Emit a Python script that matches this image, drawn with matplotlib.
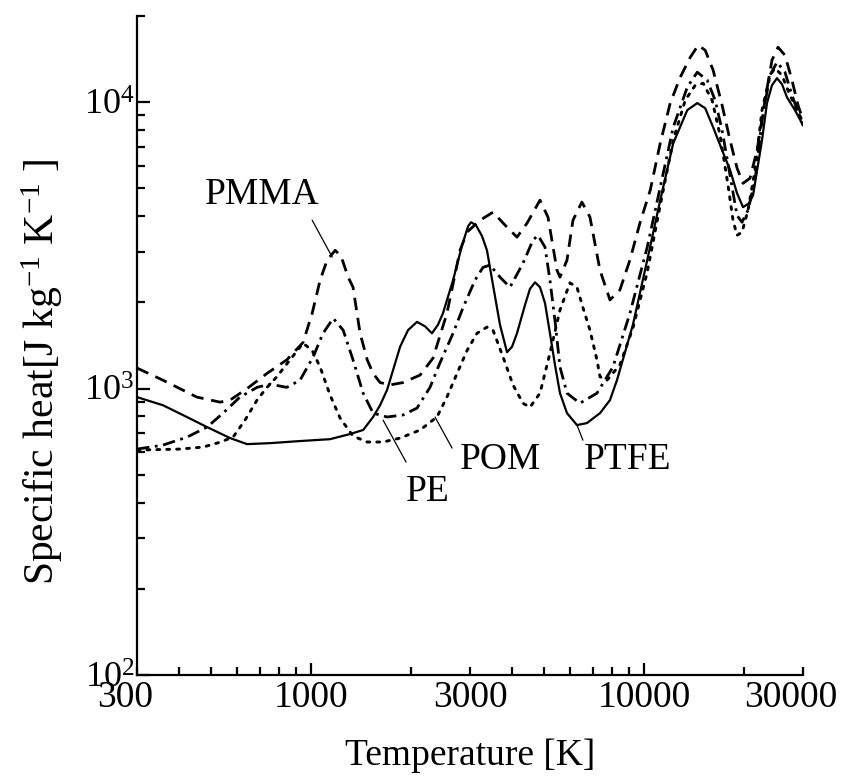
import matplotlib
matplotlib.use("Agg")
import matplotlib.pyplot as plt
from matplotlib.ticker import NullFormatter, LogLocator

plt.rcParams['font.family'] = ['Liberation Serif', 'DejaVu Serif']
plt.rcParams['mathtext.fontset'] = 'custom'
plt.rcParams['mathtext.rm'] = 'Liberation Serif'
plt.rcParams['mathtext.it'] = 'Liberation Serif:italic'

# Specific heat of polymer vapours vs temperature
ptfe_T = [300, 328, 359, 418, 487, 571, 642, 752, 926, 1140, 1308, 1433, 1535, 1611,
          1691, 1762, 1850, 1954, 2079, 2198, 2306, 2403, 2487, 2668, 2840, 2961, 3021,
          3126, 3259, 3373, 3517, 3691, 3875, 4011, 4151, 4388, 4541, 4702, 4867, 5038,
          5214, 5398, 5588, 5866, 6284, 6733, 7369, 7895, 8286, 9251, 10216, 11176,
          12228, 13472, 14435, 15253, 16111, 17140, 18108, 19008, 19813, 20650, 21230,
          22590, 23380, 24200, 25055, 25935, 26850, 28370, 30000]
ptfe_cp = [934, 904, 875, 802, 734, 672, 640, 645, 656, 666, 694, 717, 796, 875,
           990, 1160, 1400, 1600, 1710, 1650, 1560, 1670, 1830, 2390, 3170, 3690, 3810,
           3720, 3410, 3040, 2300, 1670, 1340, 1400, 1560, 1960, 2230, 2350, 2260, 1990,
           1560, 1210, 964, 821, 746, 758, 821, 912, 1070, 1670, 2810, 4550,
           7190, 9380, 9930, 9530, 8180, 6800, 5800, 4810, 4300, 4440, 4730,
           7370, 9930, 11460, 12130, 11560, 10400, 9380, 8310]

pmma_T = [300, 359, 454, 533, 571, 642, 737, 845, 946, 1007, 1064, 1117, 1181, 1230,
          1292, 1336, 1403, 1474, 1535, 1611, 1726, 1888, 2124, 2322, 2557, 2800, 2940,
          3214, 3517, 3875, 4151, 4449, 4867, 5143, 5474, 5588, 5866, 6112, 6502, 6875,
          7369, 7895, 8456, 9061, 9728, 10430, 11176, 11975, 12834, 13755, 14535,
          15253, 16111, 17140, 18108, 19008, 19813, 20793, 21830, 23065, 24200, 25230,
          26480, 27790, 28970, 30000]
pmma_cp = [1180, 1070, 934, 897, 912, 1000, 1130, 1260, 1450, 1830, 2390, 2810, 3040, 2900,
           2450, 2260, 1560, 1260, 1130, 1050, 1030, 1050, 1115, 1277, 1830, 3040, 3520,
           3870, 4130, 3660, 3380, 3780, 4550, 3970, 2590, 2450, 2810, 3870, 4480, 3970,
           2590, 2040, 2210, 2810, 3810, 4930, 7190, 9930, 12220, 14350, 15810,
           15180, 12940, 9770, 7370, 5890, 5210, 5430, 6800, 10160, 14020, 15560,
           14580, 11940, 9770, 8650]

pe_T = [300, 359, 424, 487, 544, 611, 688, 752, 845, 926, 1014, 1086, 1165, 1248,
        1336, 1433, 1535, 1691, 1888, 2079, 2275, 2437, 2668, 2860, 3105, 3281, 3445,
        3691, 3955, 4327, 4637, 4800, 5038, 5214, 5398, 5588, 5866, 6413, 7216, 8061,
        9061, 10216, 11176, 12228, 13472, 14435, 15464, 16336, 17140, 18108, 19008,
        19676, 20507, 21528, 22590, 23870, 25055, 26480, 27790, 30000]
pe_cp = [615, 635, 677, 734, 821, 934, 1010, 1037, 1010, 1070, 1290, 1560, 1760, 1600,
         1260, 964, 821, 796, 809, 855, 1010, 1230, 1560, 1920, 2390, 2650, 2700,
         2450, 2260, 2740, 3300, 3430, 3120, 2390, 1730, 1190, 964, 889, 964, 1190,
         1830, 3120, 5050, 8180, 11280, 12730, 11940, 10160, 7980, 5560, 4020,
         3810, 4200, 5340, 8650, 12420, 13800, 12730, 10570, 8310]

pom_T = [300, 337, 403, 474, 533, 583, 633, 688, 737, 789, 864, 946, 1007, 1064,
         1140, 1222, 1336, 1474, 1645, 1850, 2124, 2387, 2557, 2743, 2940, 3148, 3373,
         3517, 3769, 4039, 4327, 4541, 4867, 5214, 5588, 5986, 6284, 6548, 6875, 7216,
         7369, 7733, 8456, 9251, 10216, 11176, 12228, 13285, 14237, 15042, 15999,
         16902, 17858, 18488, 19008, 19676, 20507, 21528, 22590, 23870, 24710, 25935,
         27410, 30000]
pom_cp = [610, 612, 615, 625, 650, 677, 776, 912, 1010, 1100, 1260, 1440, 1360, 1190,
          949, 789, 683, 651, 651, 672, 717, 796, 934, 1130, 1360, 1560, 1640,
          1600, 1290, 1030, 889, 861, 964, 1330, 1880, 2340, 2260, 1920, 1600, 1260,
          1100, 1070, 1210, 1626, 2550, 4370, 7370, 10160, 11460, 11640, 10160,
          7670, 5130, 3870, 3430, 3520, 4200, 5800, 9380, 12420, 13150, 12420,
          10570, 8510]

x_ticks = [300, 1000, 3000, 10000, 30000]
x_ticklabels = ['300', '1000', '3000', '10000', '30000']
x_label_shift = [-12, 0, 0, 0, -12]   # pixel nudge of the end labels

fig = plt.figure(figsize=(8.43, 7.84), dpi=100)
ax = fig.add_axes([0.1625, 0.139, 0.7901, 0.8406])

lw = 1.6
ax.plot(ptfe_T, ptfe_cp, color='black', lw=lw, ls='-')
ax.plot(pmma_T, pmma_cp, color='black', lw=lw + 0.4, ls=(0, (4.5, 2.8)))
ax.plot(pe_T, pe_cp, color='black', lw=lw + 0.4, ls=(0, (4.5, 2.0, 1.0, 2.0)))
ax.plot(pom_T, pom_cp, color='black', lw=lw + 0.5, ls=(0, (1.0, 2.4)),
        dash_capstyle='round')

ax.set_xscale('log')
ax.set_yscale('log')
ax.set_xlim(300, 30000)
ax.set_ylim(100, 20000)

for s in ['top', 'right']:
    ax.spines[s].set_visible(False)
for s in ['left', 'bottom']:
    ax.spines[s].set_linewidth(1.6)

ax.xaxis.set_major_locator(LogLocator(base=10, numticks=10))
ax.xaxis.set_minor_locator(LogLocator(base=10, subs=range(2, 10), numticks=20))
ax.xaxis.set_major_formatter(NullFormatter())
ax.xaxis.set_minor_formatter(NullFormatter())
ax.yaxis.set_minor_locator(LogLocator(base=10, subs=range(2, 10), numticks=20))
ax.yaxis.set_minor_formatter(NullFormatter())

ax.tick_params(which='major', direction='in', length=9, width=1.6, labelsize=26, pad=2)
ax.tick_params(which='minor', direction='in', length=6, width=1.6)

for T, lab, dx in zip(x_ticks, x_ticklabels, x_label_shift):
    ax.annotate(lab, xy=(T, 0), xycoords=ax.get_xaxis_transform(),
                xytext=(dx * 0.72, -4), textcoords='offset points',
                ha='center', va='top', fontsize=27)

ax.set_xlabel('Temperature [K]', fontsize=27, labelpad=42)
ax.set_ylabel('Specific heat[J kg$^{-1}$ K$^{-1}$ ]', fontsize=30)
ax.yaxis.set_label_coords(-0.108, 0.46)

line_kw = dict(arrowprops=dict(arrowstyle='-', color='black', lw=0.9,
                               shrinkA=0, shrinkB=0))
ax.annotate('', xy=(1157, 2880), xytext=(1007, 3875), **line_kw)
ax.text(712, 4735, 'PMMA', fontsize=27, ha='center', va='center')
ax.annotate('', xy=(1645, 776), xytext=(1928, 554), **line_kw)
ax.text(2245, 435, 'PE', fontsize=27, ha='center', va='center')
ax.annotate('', xy=(2355, 796), xytext=(2650, 620), **line_kw)
ax.text(3715, 563, 'POM', fontsize=27, ha='center', va='center')
ax.annotate('', xy=(6284, 746), xytext=(6548, 661), **line_kw)
ax.text(8940, 563, 'PTFE', fontsize=27, ha='center', va='center')

fig.savefig('out.png', dpi=100)
